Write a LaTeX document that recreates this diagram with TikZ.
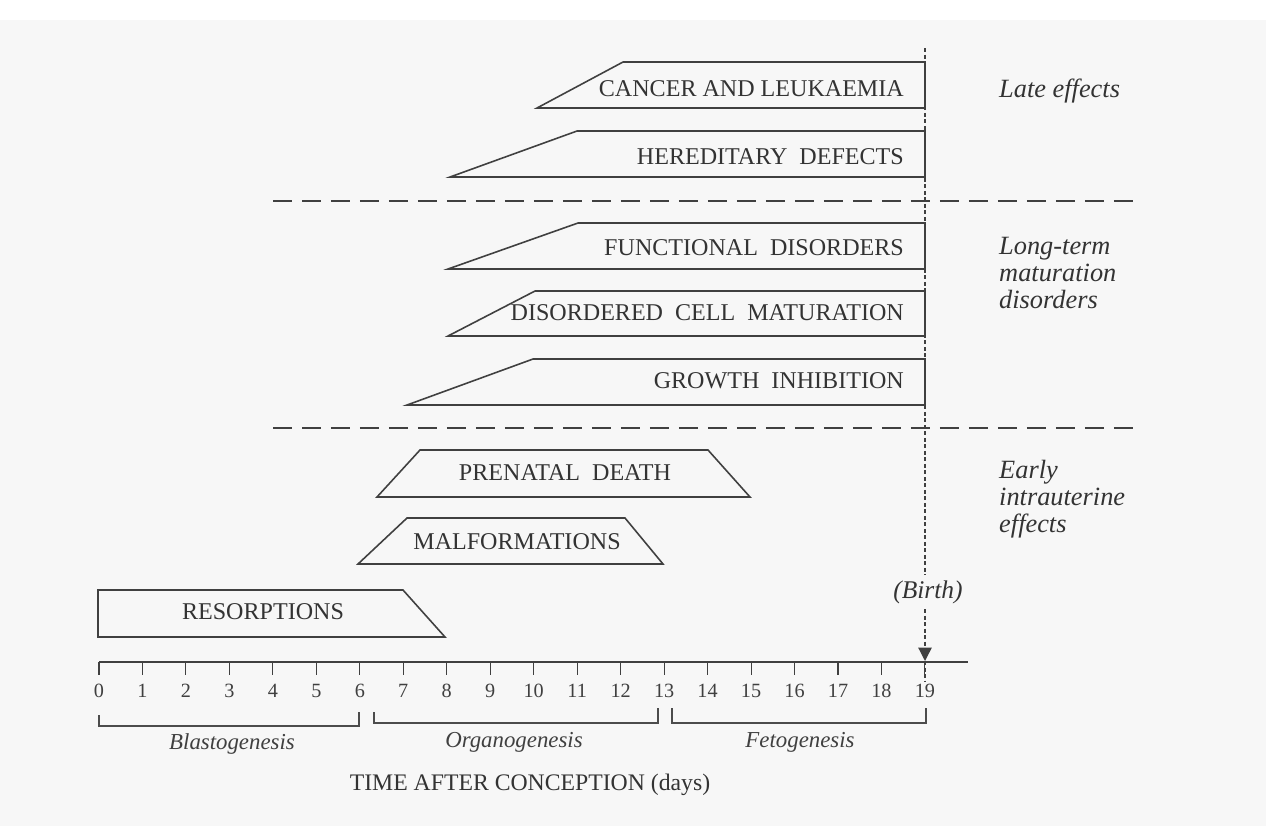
\documentclass[tikz,border=0pt]{standalone}
\usepackage{fontspec}
\setmainfont{Liberation Serif}
\usetikzlibrary{arrows.meta}

\begin{document}
\begin{tikzpicture}[
    x=0.02cm, y=-0.02cm,
    band/.style={draw=black!75, line width=0.9pt},
    bandlabel/.style={anchor=east, text=black!80, font=\fontsize{13.7}{15}\selectfont},
    divider/.style={draw=black!75, line width=1.3pt, dash pattern=on 0.38cm off 0.2cm},
    birthline/.style={draw=black!75, line width=0.7pt, dash pattern=on 0.08cm off 0.05cm},
    axisline/.style={draw=black!75, line width=0.9pt},
    bracket/.style={draw=black!70, line width=0.7pt},
    daylabel/.style={text=black!75, font=\fontsize{11.5}{13}\selectfont},
    stage/.style={text=black!75, font=\fontsize{13}{15}\selectfont\itshape},
    group/.style={anchor=north west, align=left, text=black!80, font=\fontsize{15}{15.5}\selectfont\itshape}
]
\useasboundingbox (0,0) rectangle (1266,826);
\fill[black!3] (0,20) rectangle (1266,826);

% late effects
\draw[band] (537,108) -- (623,62) -- (925,62) -- (925,108) -- cycle;
\node[bandlabel] (cancer) at (910,89) {CANCER AND LEUKAEMIA};
\draw[band] (450,177) -- (577,131) -- (925,131) -- (925,177) -- cycle;
\node[bandlabel] (hered) at (910,157) {HEREDITARY\ \ DEFECTS};

\draw[divider] (273,201) -- (1133,201);

% long-term maturation disorders
\draw[band] (448,269) -- (578,223) -- (925,223) -- (925,269) -- cycle;
\node[bandlabel] (funct) at (910,248) {FUNCTIONAL\ \ DISORDERS};
\draw[band] (448,336) -- (535,291) -- (925,291) -- (925,336) -- cycle;
\node[bandlabel] (cellmat) at (910,313) {DISORDERED\ \ CELL\ \ MATURATION};
\draw[band] (407,405) -- (533,359) -- (925,359) -- (925,405) -- cycle;
\node[bandlabel] (growth) at (910,381) {GROWTH\ \ INHIBITION};

\draw[divider] (273,428) -- (1133,428);

% early intrauterine effects
\draw[band] (377,497) -- (420,450) -- (708,450) -- (750,497) -- cycle;
\node[bandlabel, anchor=center] (death) at (565,473) {PRENATAL\ \ DEATH};
\draw[band] (358,564) -- (407,518) -- (625,518) -- (663,564) -- cycle;
\node[bandlabel, anchor=center] (malform) at (517,542) {MALFORMATIONS};
\draw[band] (98,637) -- (98,590) -- (403,590) -- (445,637) -- cycle;
\node[bandlabel, anchor=center] (resorp) at (263,612) {RESORPTIONS};

% group labels
\node[group] (late) at (993,73) {Late effects};
\node[group] (longterm) at (993,231) {Long-term\\maturation\\disorders};
\node[group] (early) at (993,454) {Early\\intrauterine\\effects};

% time axis
\coordinate (axisstart) at (99,662);
\coordinate (axisend) at (968,662);
\draw[axisline] (axisstart) -- (axisend);
\foreach \d in {0,...,19} {
    \draw[axisline, line width=0.6pt] ({99+43.47*\d},662) -- ++(0,13);
    \node[daylabel] (day\d) at ({99+43.47*\d},691) {\d};
}

% birth
\coordinate (birthtop) at (925,48);
\coordinate (birthtip) at (925,661);
\coordinate (birthfoot) at (925,682);
\node[text=black!80, font=\fontsize{14.5}{16}\selectfont\itshape, fill=black!3, inner sep=3pt] (birth) at (928,592) {(Birth)};
\draw[birthline] (birthtop) -- (birth.north -| birthtop);
\draw[birthline, -{Triangle[length=0.27cm, width=0.27cm]}] (birth.south -| birthtop) -- (birthtip);
\draw[birthline] (birthtip) -- (birthfoot);

% stages
\draw[bracket] (99,715) -- (99,726) -- (359,726) -- (359,712);
\draw[bracket] (374,712) -- (374,723) -- (658,723) -- (658,708);
\draw[bracket] (672,708) -- (672,723) -- (926,723) -- (926,708);
\node[stage] (blasto) at (232,744) {Blastogenesis};
\node[stage] (organo) at (514,742) {Organogenesis};
\node[stage] (feto) at (800,742) {Fetogenesis};

\node[text=black!80, font=\fontsize{13.5}{15}\selectfont] (timelabel) at (530,785) {TIME AFTER CONCEPTION (days)};
\end{tikzpicture}
\end{document}
